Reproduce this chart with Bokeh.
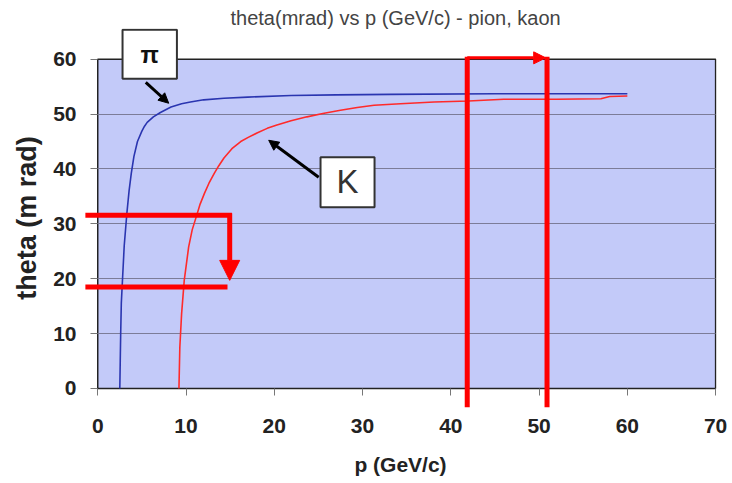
from bokeh.plotting import figure
from bokeh.models import Range1d, Arrow, NormalHead, Label, FixedTicker
from bokeh.embed import file_html
from bokeh.resources import INLINE

# ---- data ----
pion_p = [2.50, 2.55, 2.60, 2.67, 2.80, 3.00, 3.30, 3.55, 3.80, 4.10, 4.50, 5.00, 5.30, 5.60, 6.30, 7.10, 8.30,
          9.50, 10.5, 12.0, 14.3, 17.0, 21.9, 27.0, 33.2, 45.0, 60.0]
pion_theta = [0.0, 5.0, 10.0, 15.5, 19.7, 26.0, 31.9, 36.0, 39.2, 42.3, 45.0, 46.9, 47.8, 48.5, 49.5, 50.3, 51.3,
              51.9, 52.2, 52.6, 52.9, 53.1, 53.4, 53.5, 53.6, 53.7, 53.7]

kaon_p = [9.2, 9.3, 9.5, 9.8, 10.3, 10.7, 11.2, 11.6, 12.1, 12.6, 13.2, 13.7, 14.3, 15.2, 16.2, 17.1, 18.1,
          19.2, 20.3, 21.9, 23.7, 25.5, 27.5, 29.4, 31.3, 34.3, 38.1, 42.0, 46.0, 52.0, 57.0, 58.0, 60.0]
kaon_theta = [0.0, 7.5, 13.6, 19.7, 25.8, 28.9, 31.5, 33.6, 35.6, 37.4, 39.2, 40.55, 42.0, 43.7, 45.0, 45.8,
              46.6, 47.4, 48.0, 48.8, 49.5, 50.1, 50.7, 51.2, 51.6, 51.9, 52.2, 52.4, 52.7, 52.7, 52.8, 53.2, 53.3]

x_ticks = [0, 10, 20, 30, 40, 50, 60, 70]
y_ticks = [0, 10, 20, 30, 40, 50, 60]

# annotation anchors (data units)
theta_cut_hi = 31.55
theta_cut_lo = 18.5
theta_arrow_tip = 19.7
p_cut_start = -1.4
p_cut_end = 14.95
p_window = [41.86, 50.9]
theta_window_top = 60.45
theta_window_bottom = -3.45
theta_window_arrow = 60.25
pi_box = (5.89, 60.9)
k_box = (28.3, 37.6)
pi_arrow = (5.44, 55.8, 8.04, 51.98)
k_arrow = (25.03, 38.48, 19.37, 45.23)

FONT = "Liberation Sans"
RED = "#ff0000"
BOX_BLUE = "#C3CAF9"

x0, x1 = x_ticks[0], x_ticks[-1]
y0, y1 = y_ticks[0], y_ticks[-1]

# the frame extends a little beyond the plot box so the red marks that stick out are not clipped;
# the plot box itself is drawn as a quad from the axis extents
p = figure(frame_width=632, frame_height=379,
           x_range=Range1d(x0 - 1.5, x1 + 0.1), y_range=Range1d(y0 - 3.47, y1 + 5.6),
           output_backend="svg", toolbar_location=None,
           min_border_left=84, min_border_right=15, min_border_top=28, min_border_bottom=74,
           title="theta(mrad) vs p (GeV/c) - pion, kaon")

p.title.text_font = FONT
p.title.text_font_size = "20px"
p.title.text_font_style = "normal"
p.title.text_color = "#444444"
p.title.align = "left"
p.title.offset = 146
p.title.standoff = 0

p.background_fill_color = "white"
p.border_fill_color = "white"
p.outline_line_color = None

# plot area (blue box with border)
p.quad(left=[x0], right=[x1], bottom=[y0], top=[y1], fill_color=BOX_BLUE, line_color="#222222",
       line_width=1.5, level="image")

p.xgrid.grid_line_color = None
p.ygrid.ticker = FixedTicker(ticks=y_ticks[1:-1])
p.ygrid.grid_line_color = "#7c7c98"
p.ygrid.grid_line_width = 1
if "cross_bounds" in p.ygrid[0].properties():
    p.ygrid.cross_bounds = (x0, x1)
else:
    p.ygrid.grid_line_color = None
    p.segment(x0=[x0] * (len(y_ticks) - 2), x1=[x1] * (len(y_ticks) - 2), y0=y_ticks[1:-1], y1=y_ticks[1:-1],
              line_color="#7c7c98", line_width=1, level="underlay")

p.xaxis.ticker = FixedTicker(ticks=x_ticks)
p.yaxis.ticker = FixedTicker(ticks=y_ticks)
p.xaxis.bounds = (x0, x1)
p.yaxis.bounds = (y0, y1)

for ax in (p.xaxis[0], p.yaxis[0]):
    ax.axis_line_color = None          # the box border is the visible axis line
    ax.major_tick_line_color = "#777777"
    ax.major_tick_line_width = 1
    ax.minor_tick_line_color = None
    ax.major_label_text_font = FONT
    ax.major_label_text_font_style = "bold"
    ax.major_label_text_font_size = "21px"
    ax.major_label_text_color = "#222222"

# axes sit on the frame edges; ticks are shifted so they hang off the plot box
p.yaxis.major_tick_out = -6
p.yaxis.major_tick_in = 13
p.xaxis.major_tick_out = -12
p.xaxis.major_tick_in = 19

p.xaxis.major_label_standoff = 11
p.yaxis.major_label_standoff = 8

p.xaxis.axis_label = "p (GeV/c)"
p.xaxis.axis_label_text_font = FONT
p.xaxis.axis_label_text_font_style = "bold"
p.xaxis.axis_label_text_font_size = "21px"
p.xaxis.axis_label_text_color = "#222222"
p.xaxis.axis_label_standoff = 17

p.yaxis.axis_label = "theta (m rad)"
p.yaxis.axis_label_text_font = FONT
p.yaxis.axis_label_text_font_style = "bold"
p.yaxis.axis_label_text_font_size = "27px"
p.yaxis.axis_label_text_color = "#222222"
p.yaxis.axis_label_standoff = 8

# curves
p.line(pion_p, pion_theta, line_color="#2a35b0", line_width=1.6)
p.line(kaon_p, kaon_theta, line_color="#ff2a2a", line_width=1.6)

# left cut lines
p.segment(x0=[p_cut_start, p_cut_start], x1=[p_cut_end + 0.25, p_cut_end - 0.25],
          y0=[theta_cut_hi, theta_cut_lo], y1=[theta_cut_hi, theta_cut_lo],
          line_color=RED, line_width=5, line_cap="butt")
p.add_layout(Arrow(end=NormalHead(size=20, fill_color=RED, line_color=RED, line_width=1),
                   x_start=p_cut_end, y_start=theta_cut_hi + 0.4, x_end=p_cut_end, y_end=theta_arrow_tip,
                   line_color=RED, line_width=5))

# momentum window lines
p.segment(x0=p_window, x1=p_window, y0=[theta_window_top] * 2, y1=[theta_window_bottom] * 2,
          line_color=RED, line_width=5, line_cap="butt")
p.add_layout(Arrow(end=NormalHead(size=12, fill_color=RED, line_color=RED, line_width=1),
                   x_start=p_window[0], y_start=theta_window_arrow, x_end=p_window[1] - 0.15,
                   y_end=theta_window_arrow, line_color=RED, line_width=3))

# black pointer arrows
p.add_layout(Arrow(end=NormalHead(size=10, fill_color="black", line_color="black"),
                   x_start=pi_arrow[0], y_start=pi_arrow[1], x_end=pi_arrow[2], y_end=pi_arrow[3],
                   line_color="black", line_width=3))
p.add_layout(Arrow(end=NormalHead(size=10, fill_color="black", line_color="black"),
                   x_start=k_arrow[0], y_start=k_arrow[1], x_end=k_arrow[2], y_end=k_arrow[3],
                   line_color="black", line_width=3))

# labels in boxes
p.add_layout(Label(x=pi_box[0], y=pi_box[1], text="π", text_align="center", text_baseline="middle",
                   text_font=FONT, text_font_style="bold", text_font_size="24px", text_color="#111111",
                   background_fill_color="white", border_line_color="#333333", border_line_width=2,
                   padding=dict(left=18, right=18, top=11, bottom=11)))
p.add_layout(Label(x=k_box[0], y=k_box[1], text="K", text_align="center", text_baseline="middle",
                   text_font=FONT, text_font_style="normal", text_font_size="33px", text_color="#333333",
                   background_fill_color="white", border_line_color="#333333", border_line_width=2,
                   padding=dict(left=16, right=16, top=6, bottom=7)))

open("out.html", "w").write(file_html(p, INLINE))
